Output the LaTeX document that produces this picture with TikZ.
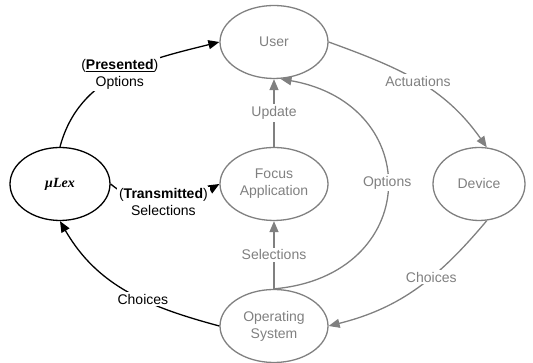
\documentclass[tikz,border=0pt]{standalone}
\usepackage{fontspec}
\setmainfont{Liberation Sans}
\newfontfamily\lexfont{Liberation Serif}
\usetikzlibrary{shapes.geometric,arrows.meta}
\definecolor{flowgray}{HTML}{808080}

\begin{document}
\begin{tikzpicture}[x=1pt,y=1pt,
    font=\fontsize{14}{17}\selectfont,
    state/.style={ellipse, draw=flowgray, line width=1.3pt, text=flowgray,
                  align=center, minimum width=108pt, minimum height=73pt, inner sep=0pt},
    flow/.style={flowgray, line width=1.3pt, -{Triangle[length=11pt,width=9pt]}},
    link/.style={black, line width=1.3pt, -{Triangle[length=11pt,width=9pt]}},
    tag/.style={fill=white, align=center, inner sep=2pt}]
    \useasboundingbox (0,0) rectangle (533,363);

    % States
    \node[state] (user) at (274,321) {User};
    \node[state] (focus) at (274,179) {Focus\\Application};
    \node[state, minimum width=92pt] (device) at (479,179) {Device};
    \node[state] (os) at (274,37) {Operating\\System};
    \node[state, draw=black, text=black, minimum width=100pt]
          (lex) at (60,179) {\lexfont\bfseries\itshape μLex};

    % muLex edges
    \draw[link] (lex.north) to[out=75,in=194]
          node[tag] {(\underline{\textbf{Presented}})\\Options} (user.west);
    \draw[link] (lex.east) to[out=-40,in=210]
          node[tag] {(\textbf{Transmitted})\\Selections} (focus.west);
    \draw[link] (os.west) to[out=165,in=-60]
          node[tag, pos=0.4] {Choices} (lex.south);

    % Gray edges
    \draw[flow] (user.east) to[out=-20,in=125]
          node[tag] {Actuations} (device.78);
    \draw[flow] (device.-78) to[out=230,in=14]
          node[tag, pos=0.4] {Choices} (os.east);
    \draw[flow] (os.north) to[out=5,in=-10,looseness=1.8]
          node[tag, pos=0.52] {Options} (user.-80);
    \draw[flow] (focus) -- node[tag] {Update} (user);
    \draw[flow] (os) -- node[tag] {Selections} (focus);
\end{tikzpicture}
\end{document}
